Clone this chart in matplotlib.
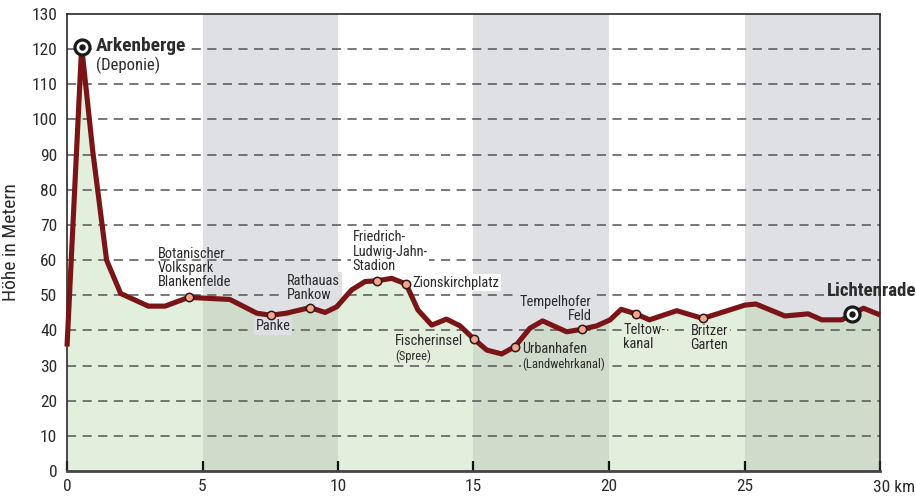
import matplotlib
matplotlib.use('Agg')
import matplotlib.pyplot as plt
from matplotlib import font_manager

# elevation profile (km, m)
dist = [0, 0.54, 0.95, 1.46, 1.98, 3.0, 3.62, 4.49, 6.01, 7.0, 7.52, 8.1, 8.97, 9.52,
        9.95, 10.5, 11.0, 11.43, 11.98, 12.51, 12.95, 13.46, 14.0, 14.5, 15.02, 15.49,
        16.04, 16.53, 17.08, 17.55, 18.44, 18.99, 19.55, 20.04, 20.45, 20.99, 21.49,
        22.5, 23.46, 25.02, 25.42, 26.49, 27.35, 27.85, 28.59, 28.98, 29.39, 30]
height = [35.4, 120.7, 91, 60, 50.5, 46.9, 46.9, 49.4, 48.8, 44.9, 44.3, 44.9, 46.5, 45.1,
          46.7, 51.5, 53.9, 54.1, 54.8, 53.2, 45.8, 41.5, 43.2, 41.3, 37.5, 34.4,
          33.3, 35.4, 40.6, 42.7, 39.6, 40.3, 41.3, 43, 46, 44.7, 43,
          45.6, 43.4, 47.2, 47.5, 44.1, 44.7, 43, 43, 44.7, 46.3, 44.4]

# intermediate stations
stop_x = [4.49, 7.52, 8.97, 11.43, 12.51, 15.02, 16.53, 18.99, 20.99, 23.46]
stop_y = [49.4, 44.3, 46.5, 54.1, 53.2, 37.5, 35.4, 40.3, 44.7, 43.4]

# start / end
end_x = [0.54, 28.98]
end_y = [120.7, 44.7]

bands = [(5, 10), (15, 20), (25, 30)]
yticks = list(range(0, 131, 10))
xticks = [0, 5, 10, 15, 20, 25, 30]
xticklabels = ['0', '5', '10', '15', '20', '25', '']

# condensed sans, similar to Univers Condensed
have = set(f.name for f in font_manager.fontManager.ttflist)
wanted = ['Roboto Condensed', 'Archivo Narrow', 'PT Sans Narrow', 'Liberation Sans Narrow',
          'Encode Sans Condensed', 'Fira Sans Condensed', 'IBM Plex Sans Condensed',
          'Open Sans Condensed', 'Asap Condensed', 'Barlow Semi Condensed', 'Pragati Narrow']
FONT = [n for n in wanted if n in have][:1] + ['DejaVu Sans']
plt.rcParams['font.family'] = FONT

RED = '#7b1416'
WHITE_BG = '#ffffff'
GREY_BG = '#dfe0e4'
GREEN_L = '#e3efdc'
GREEN_D = '#cfdbcb'
TXT = '#2b2b2b'

fig = plt.figure(figsize=(9.16, 4.99), dpi=100)
ax = fig.add_axes([67/916, 28/499, 813/916, 457/499])

for a, b in bands:
    ax.axvspan(a, b, color=GREY_BG, zorder=0, lw=0)
# green fill, half transparent so that it darkens over the grey bands
ax.fill_between(dist, 0, height, color=(181/255, 213/255, 163/255), alpha=0.38, lw=0, zorder=0.5)

for v in yticks[1:-1]:
    ax.axhline(v, color='#555555', lw=1.1, ls=(0, (6, 4.2)), zorder=1)

ax.plot(dist, height, color=RED, lw=3.7, solid_joinstyle='round', solid_capstyle='butt',
        zorder=3, clip_on=False)
ax.plot(stop_x, stop_y, 'o', ms=6, mfc='#f6a58a', mec='#2a1a1a', mew=1.1, zorder=4)
ax.plot(end_x, end_y, 'o', ms=10.8, mfc='white', mec='#1a1a1a', mew=2.3, zorder=4, clip_on=False)
ax.plot(end_x, end_y, 'o', ms=3.6, mfc='#1a1a1a', mec='#1a1a1a', zorder=5, clip_on=False)


def label(x, y, s, bg=None, size=10.4, weight='normal', ha='left', va='center', ls=1.0):
    # a hidden copy carries the background box (clipped to the axes), then the text itself
    if bg is not None:
        ax.text(x, y, s, fontsize=size, fontweight=weight, ha=ha, va=va, linespacing=ls,
                color=(0, 0, 0, 0), zorder=2, clip_on=True,
                bbox=dict(boxstyle='square,pad=0.12', fc=bg, ec='none'))
    ax.text(x, y, s, fontsize=size, fontweight=weight, ha=ha, va=va, linespacing=ls,
            color=TXT, zorder=6, clip_on=False)


label(1.06, 120.9, 'Arkenberge', WHITE_BG, size=13.9, weight='bold')
label(1.06, 115.4, '(Deponie)', WHITE_BG, size=12)
label(3.36, 57.8, 'Botanischer\nVolkspark\nBlankenfelde', None, ls=1.02)
label(7.6, 41.3, 'Panke', GREY_BG, ha='center')
label(8.12, 52.0, 'Rathauas\nPankow', GREY_BG, ls=1.02)
label(10.54, 62.4, 'Friedrich-\nLudwig-Jahn-\nStadion', WHITE_BG, ls=1.02)
label(12.75, 53.6, 'Zionskirchplatz', WHITE_BG)
label(14.62, 37.1, 'Fischerinsel', GREEN_L, ha='right')
label(12.1, 32.5, '(Spree)', GREEN_L, size=9)
label(16.81, 34.7, 'Urbanhafen', GREEN_D)
label(16.81, 30.35, '(Landwehrkanal)', GREEN_D, size=9)
label(19.35, 46.1, 'Tempelhofer\nFeld', GREY_BG, ha='right', ls=1.02)
label(20.53, 38.1, 'Teltow-\nkanal', GREEN_L, ls=1.02)
label(23.01, 37.8, 'Britzer\nGarten', GREEN_L, ls=1.02)
label(28.03, 51.3, 'Lichtenrade', GREY_BG, size=13.6, weight='bold')

ax.set_xlim(0, 30)
ax.set_ylim(0, 130)
ax.set_yticks(yticks)
ax.set_xticks(xticks)
ax.set_xticklabels(xticklabels)
ax.tick_params(axis='y', length=0, pad=7, labelsize=12.5, labelcolor=TXT)
ax.tick_params(axis='x', direction='in', length=7, width=1.6, color='#111111', pad=6,
               labelsize=12.5, labelcolor=TXT)
ax.annotate('30 km', xy=(30, 0), xycoords=('data', 'axes fraction'), xytext=(-7, -8.5),
            textcoords='offset pixels', ha='left', va='top', fontsize=12.5, color=TXT)
ax.set_ylabel('Höhe in Metern', fontsize=14, color=TXT, labelpad=8)

for side in ['left', 'right', 'top']:
    ax.spines[side].set_color('#2a2a2a')
    ax.spines[side].set_linewidth(1.2)
ax.spines['bottom'].set_color('#444444')
ax.spines['bottom'].set_linewidth(2.0)

fig.savefig('out.png', dpi=100)
